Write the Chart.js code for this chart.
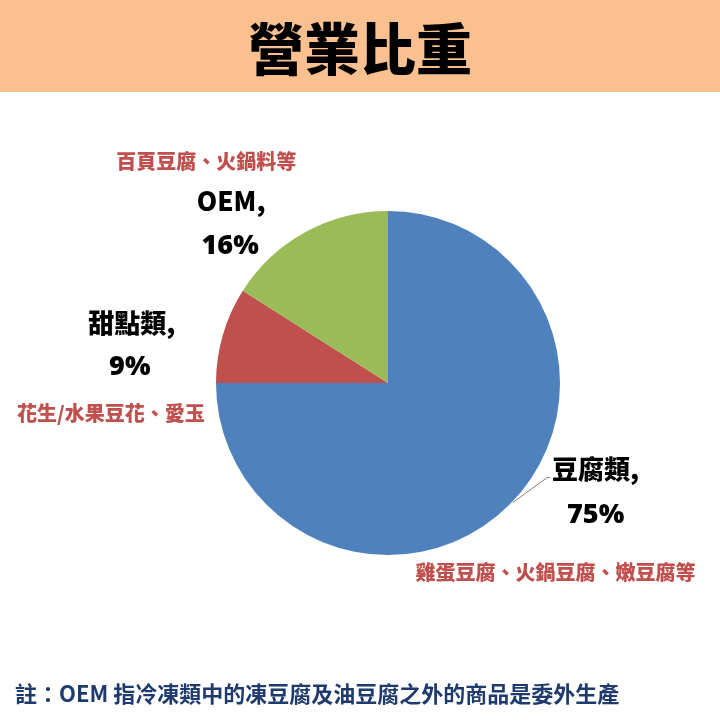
<!DOCTYPE html>
<html>
<head>
<meta charset="utf-8">
<script src="https://cdn.jsdelivr.net/npm/chart.js@4"></script>
<style>
  html, body { margin: 0; padding: 0; background: #ffffff; }
  #wrap { position: relative; width: 720px; height: 720px; overflow: hidden; }
  #banner { position: absolute; left: 0; top: 0; width: 720px; height: 92px; background: #FAC090; }
  #title { position: absolute; left: 0; top: 0; width: 720px; height: 92px; line-height: 92px; text-align: center;
           font-family: "Noto Sans CJK TC", "Noto Sans CJK SC", sans-serif; font-weight: 900; font-size: 56px; color: #000; }
  #note { position: absolute; left: 15px; top: 676px; font-family: "Noto Sans CJK TC", sans-serif; font-weight: 700; font-size: 22px; color: #1F3B6E; white-space: nowrap; }
  canvas { position: absolute; left: 0; top: 0; }
</style>
</head>
<body>
<div id="wrap">
  <div id="banner"></div>
  <div id="title">營業比重</div>
  <canvas id="c" width="720" height="720"></canvas>
  <div id="note">註：OEM 指冷凍類中的凍豆腐及油豆腐之外的商品是委外生產</div>
</div>
<script>
const categories = ["豆腐類", "甜點類", "OEM"];
const shares = [75, 9, 16];
const pctLabels = ["75%", "9%", "16%"];
const descriptions = ["雞蛋豆腐、火鍋豆腐、嫩豆腐等", "花生/水果豆花、愛玉", "百頁豆腐、火鍋料等"];
const sliceColors = ["#4F81BD", "#C0504D", "#9BBB59"];

// label offsets relative to each slice's outer-edge midpoint: [name, pct, desc] as [dx, dy]
const labelOffsets = [
  [[86, -35], [86, 11], [46, 68]],
  [[-91, -12], [-93, 32], [-112, 78]],
  [[-74, -31], [-75, 14], [-99, -71]]
];

const labelPlugin = {
  id: 'labels',
  afterDatasetsDraw(chart) {
    const ctx = chart.ctx;
    const meta = chart.getDatasetMeta(0);
    meta.data.forEach((arc, i) => {
      const p = arc.getProps(['x', 'y', 'startAngle', 'endAngle', 'outerRadius'], true);
      const mid = (p.startAngle + p.endAngle) / 2;
      const ex = p.x + Math.cos(mid) * p.outerRadius;
      const ey = p.y + Math.sin(mid) * p.outerRadius;
      const off = labelOffsets[i];
      ctx.save();
      ctx.textAlign = 'center';
      ctx.textBaseline = 'middle';
      if (i === 0) {
        ctx.font = '900 26px "Noto Sans CJK TC", sans-serif';
        const w = ctx.measureText(categories[i] + ",").width;
        const lx = ex + off[0][0] - w / 2 - 2;
        const ly = ey + off[0][1] + 8;
        ctx.strokeStyle = '#8A8070';
        ctx.lineWidth = 1;
        ctx.beginPath();
        ctx.moveTo(ex + 3, ey - 2);
        ctx.lineTo(lx - 3, ly);
        ctx.lineTo(lx, ly);
        ctx.stroke();
      }
      ctx.fillStyle = '#000000';
      ctx.font = '900 26px "Noto Sans CJK TC", sans-serif';
      ctx.fillText(categories[i] + ",", ex + off[0][0], ey + off[0][1]);
      ctx.font = '800 27px "Open Sans", "Noto Sans", sans-serif';
      ctx.fillText(pctLabels[i], ex + off[1][0], ey + off[1][1]);
      ctx.fillStyle = '#C0504D';
      ctx.font = '900 20px "Noto Sans CJK TC", sans-serif';
      ctx.fillText(descriptions[i], ex + off[2][0], ey + off[2][1]);
      ctx.restore();
    });
  }
};

new Chart(document.getElementById('c'), {
  type: 'pie',
  data: {
    labels: categories,
    datasets: [{
      data: shares,
      backgroundColor: sliceColors,
      borderWidth: 0
    }]
  },
  options: {
    responsive: false,
    animation: false,
    layout: { padding: { left: 216, top: 211, right: 160, bottom: 165 } },
    plugins: { legend: { display: false }, tooltip: { enabled: false } }
  },
  plugins: [labelPlugin]
});
</script>
</body>
</html>
